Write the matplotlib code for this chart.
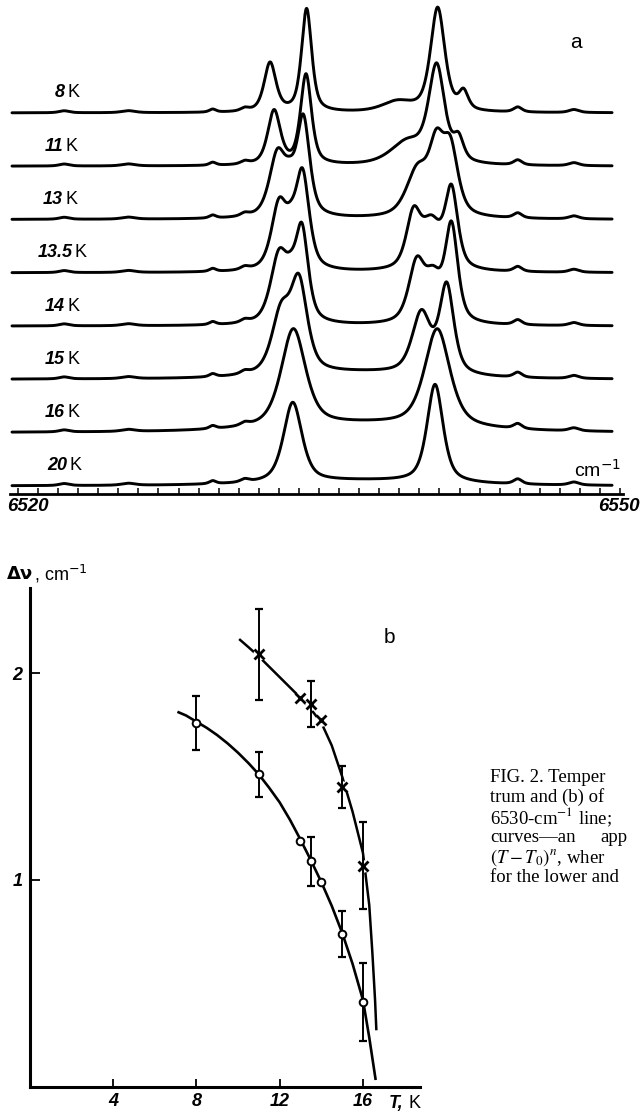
import numpy as np
import matplotlib
matplotlib.use("Agg")
import matplotlib.pyplot as plt

plt.rcParams['mathtext.fontset'] = 'stix'

# ---------------- panel a: spectra ----------------
# labels of the traces, top to bottom
temps = ["8", "11", "13", "13.5", "14", "15", "16", "20"]

# peaks: (centre cm^-1, height above baseline px, fwhm cm^-1)
peaks_8 = [(6532.56, 49, 0.7), (6534.38, 103, 0.6), (6538.9, 10, 1.8),
           (6540.91, 104, 0.85), (6542.2, 18, 0.55)]
peaks_11 = [(6532.76, 54, 0.75), (6534.35, 90, 0.65), (6539.4, 22, 2.0),
            (6540.86, 96, 0.95), (6541.95, 22, 0.6)]
peaks_13 = [(6532.92, 60, 0.95), (6533.55, 25, 0.8), (6534.22, 95, 0.75),
            (6539.9, 45, 1.3), (6540.85, 62, 0.9), (6541.55, 64, 0.9)]
peaks_135 = [(6533.0, 62, 0.9), (6533.6, 25, 0.8), (6534.18, 92, 0.8),
             (6539.7, 52, 0.85), (6540.6, 45, 1.2), (6541.6, 77, 0.75)]
peaks_14 = [(6533.0, 65, 1.0), (6533.6, 25, 0.8), (6534.15, 88, 0.75),
            (6539.86, 58, 0.95), (6540.7, 40, 1.0), (6541.6, 95, 0.75)]
peaks_15 = [(6533.1, 58, 1.1), (6534.0, 88, 1.0), (6540.1, 60, 1.1),
            (6541.36, 88, 0.85), (6537.0, 6, 8.0)]
peaks_16 = [(6533.72, 98, 1.45), (6540.89, 98, 1.5), (6537.3, 8, 10.0)]
peaks_20 = [(6533.69, 80, 1.1), (6540.78, 98, 0.95), (6537.2, 5, 10.0)]
spectra = [peaks_8, peaks_11, peaks_13, peaks_135, peaks_14, peaks_15, peaks_16, peaks_20]

# small baseline wiggles seen on all traces
bumps = [(6522.3, 2, 0.6), (6525.5, 2, 0.8), (6529.7, 3, 0.4), (6531.3, 3, 0.5),
         (6544.9, 5, 0.5), (6547.7, 3, 0.6)]

# ---------------- panel b: line widths ----------------
T_low = [8, 11, 13, 13.5, 14, 15, 16]
dv_low = [1.76, 1.51, 1.19, 1.09, 0.99, 0.74, 0.41]
err_low = [0.13, 0.11, 0, 0.12, 0, 0.11, 0.19]

T_up = [11, 13, 13.5, 14, 15, 16]
dv_up = [2.09, 1.88, 1.85, 1.775, 1.45, 1.07]
err_up = [0.22, 0, 0.11, 0, 0.10, 0.21]

# approximating curves, points
fit_low_T = [7.15, 7.5, 8, 8.5, 9, 9.5, 10, 10.5, 11, 11.5, 12, 12.5, 13, 13.5,
             14, 14.5, 15, 15.5, 16, 16.3, 16.6]
fit_low_dv = [1.81, 1.795, 1.765, 1.735, 1.70, 1.66, 1.615, 1.565, 1.51, 1.445,
              1.375, 1.29, 1.195, 1.095, 0.99, 0.875, 0.745, 0.595, 0.42, 0.24, 0.04]
fit_up_T = [10.1, 10.5, 11, 11.5, 12, 12.5, 13, 13.5, 14, 14.5, 15, 15.5, 16,
            16.3, 16.45, 16.58, 16.64]
fit_up_dv = [2.16, 2.125, 2.08, 2.03, 1.98, 1.93, 1.88, 1.825, 1.76, 1.65,
             1.50, 1.33, 1.13, 0.88, 0.65, 0.42, 0.28]

# caption, cut by the right edge of the picture
caption = ["FIG. 2. Temper", "trum and (b) of", "6530-cm$^{-1}$ line;",
           "curves\u2014an", "$(T-T_0)^n$, wher", "for the lower and"]

W, H = 640, 1114


def box(x0, y0, x1, y1):
    # pixel box -> figure fraction
    return [x0 / W, 1 - y1 / H, (x1 - x0) / W, (y1 - y0) / H]


def pv(w, c, h, f, eta=0.6):
    u = (w - c) / (f / 2)
    return h * (eta / (1 + u ** 2) + (1 - eta) * np.exp(-np.log(2) * u ** 2))


fig = plt.figure(figsize=(6.4, 11.14), dpi=100)

lab = dict(family='Liberation Sans', fontweight='bold', style='italic')

# ---- a ----
px = 20.07  # px per cm^-1
axa = fig.add_axes(box(10, 0, 623, 494))
axa.set_xlim(6520 - 8 / px, 6520 + 605 / px)
axa.set_ylim(0, 494)
for s in ['top', 'left', 'right']:
    axa.spines[s].set_visible(False)
axa.spines['bottom'].set_linewidth(2.0)
axa.set_xticks(np.arange(6520, 6551, 1))
axa.tick_params(axis='x', direction='in', length=4, width=1.1, labelbottom=False)
axa.set_yticks([])
axa.patch.set_alpha(0)

w = np.linspace(6519.7, 6549.6, 1500)
kx = [67, 65, 65, 75, 67, 67, 67, 69]
for i, (t, pk) in enumerate(zip(temps, spectra)):
    off = 8 + (7 - i) * 53.3
    y = np.full_like(w, off)
    for c, h, f in pk + bumps:
        y += pv(w, c, h, f)
    axa.plot(w, y, color='black', lw=2.1, solid_capstyle='round')
    xk = 6520 + (kx[i] - 18) / px
    axa.text(xk - 0.1, off + 20, t, ha='right', va='center', fontsize=13, **lab)
    axa.text(xk, off + 20, "K", ha='left', va='center', fontsize=13,
             family='Liberation Sans')

axa.text(6520.5, -13, "6520", ha='center', va='center', fontsize=13.5, clip_on=False, **lab)
axa.text(6549.95, -13, "6550", ha='center', va='center', fontsize=13.5, clip_on=False, **lab)
axa.text(6547.7, 24, "cm$^{-1}$", ha='left', va='center', fontsize=14,
         family='Liberation Sans', math_fontfamily='dejavusans')
axa.text(6547.8, 452, "a", ha='center', va='center', fontsize=15, family='Liberation Sans')

# ---- b ----
axb = fig.add_axes(box(29.7, 588, 420, 1087))
axb.set_xlim(0, (420 - 29.7) / 20.83)
axb.set_ylim(0, (1087 - 588) / 207)
for s in ['top', 'right']:
    axb.spines[s].set_visible(False)
for s in ['left', 'bottom']:
    axb.spines[s].set_linewidth(2.2)
axb.patch.set_alpha(0)
axb.set_xticks([4, 8, 12, 16])
axb.set_xticklabels(["4", "8", "12", "16"], fontsize=13, **lab)
axb.set_yticks([1, 2])
axb.set_yticklabels(["1", "2"], fontsize=13, **lab)
axb.tick_params(axis='x', direction='in', length=6, width=1.3, pad=4)
axb.tick_params(axis='y', direction='in', length=7, width=1.3, pad=5)

axb.plot(fit_low_T, fit_low_dv, color='black', lw=1.9, zorder=2)
axb.plot(fit_up_T, fit_up_dv, color='black', lw=1.8, zorder=2)
# white halo that breaks the upper curve at its crosses
axb.plot(T_up, dv_up, 'o', ms=9, color='white', mec='none', zorder=3)

for T, v, e in zip(T_low, dv_low, err_low):
    if e:
        axb.errorbar(T, v, yerr=e, fmt='none', ecolor='black', elinewidth=1.4,
                     capsize=3, capthick=1.6, zorder=4)
for T, v, e in zip(T_up, dv_up, err_up):
    if e:
        axb.errorbar(T, v, yerr=e, fmt='none', ecolor='black', elinewidth=1.4,
                     capsize=3, capthick=1.6, zorder=4)

axb.plot(T_low, dv_low, 'o', ms=5.5, mfc='white', mec='black', mew=1.4, zorder=5)
axb.plot(T_up, dv_up, 'x', ms=6.5, color='black', mew=2.0, zorder=5)

axb.text(17.6, -0.08, "T,", ha='center', va='center', fontsize=13,
         clip_on=False, **lab)
axb.text(18.45, -0.08, "K", ha='center', va='center', fontsize=13,
         family='Liberation Sans', clip_on=False)
axb.text(17.25, 2.17, "b", ha='center', va='center', fontsize=15, family='Liberation Sans')

fig.text(7 / W, 1 - 574 / H, "\u0394\u03bd", ha='left', va='center', fontsize=13,
         family='DejaVu Sans', fontweight='bold')
fig.text(34 / W, 1 - 574 / H, ", cm$^{-1}$", ha='left', va='center', fontsize=13,
         family='Liberation Sans', math_fontfamily='dejavusans')

for k, line in enumerate(caption):
    fig.text(490 / W, 1 - (777 + 20.2 * k) / H, line, ha='left', va='center',
             fontsize=13.5, family='Liberation Serif')
# justified line: the next word sits well apart
fig.text(600 / W, 1 - (777 + 20.2 * 3) / H, "app", ha='left', va='center',
         fontsize=13.5, family='Liberation Serif')

fig.savefig("out.png", dpi=100, facecolor='white')
